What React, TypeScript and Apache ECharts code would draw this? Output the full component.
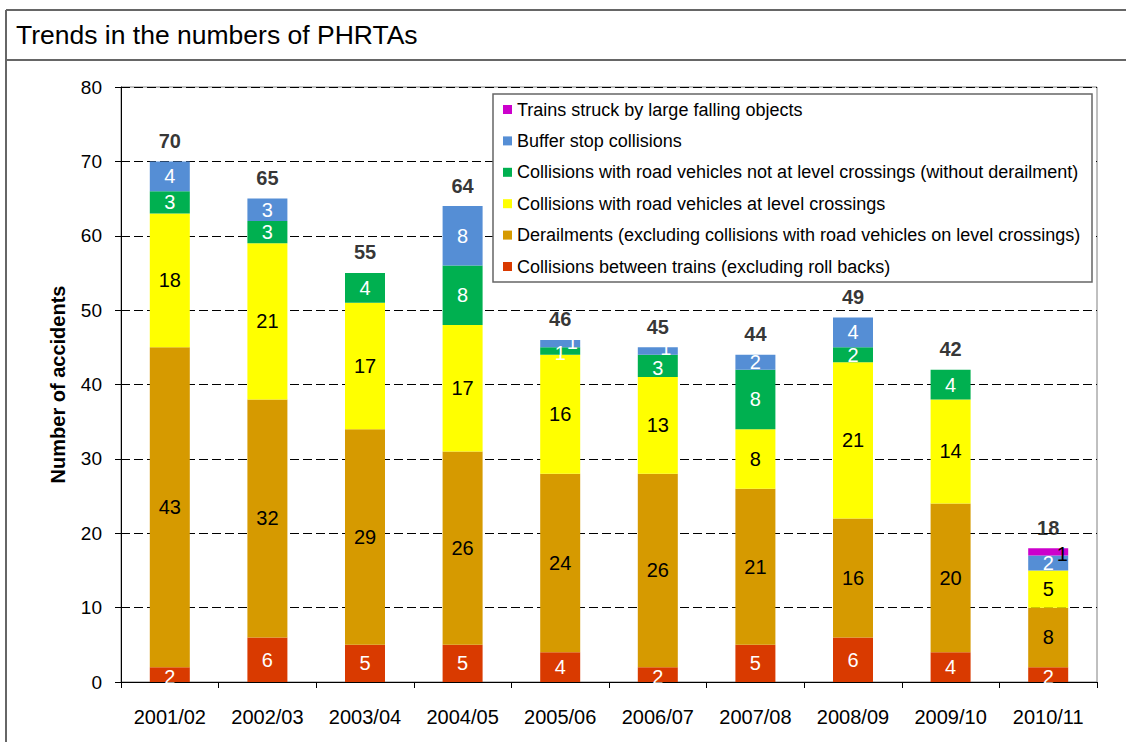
import React, { useEffect, useRef } from "react";
import * as echarts from "echarts";

const categories = ["2001/02", "2002/03", "2003/04", "2004/05", "2005/06", "2006/07", "2007/08", "2008/09", "2009/10", "2010/11"];
const collisionsBetweenTrains = [2, 6, 5, 5, 4, 2, 5, 6, 4, 2];
const derailments = [43, 32, 29, 26, 24, 26, 21, 16, 20, 8];
const levelCrossings = [18, 21, 17, 17, 16, 13, 8, 21, 14, 5];
const roadVehiclesNotLC = [3, 3, 4, 8, 1, 3, 8, 2, 4, 0];
const bufferStops = [4, 3, 0, 8, 1, 1, 2, 4, 0, 2];
const fallingObjects = [0, 0, 0, 0, 0, 0, 0, 0, 0, 1];
const totals = [70, 65, 55, 64, 46, 45, 44, 49, 42, 18];

const seriesDefs = [
  { name: "Collisions between trains (excluding roll backs)", data: collisionsBetweenTrains, color: "#D93A00", label: "#ffffff", offsets: { 0: [0, 2], 5: [0, 2], 9: [0, 2] } as Record<number, number[]> },
  { name: "Derailments (excluding collisions with road vehicles on level crossings)", data: derailments, color: "#D69A00", label: "#000000", offsets: {} as Record<number, number[]> },
  { name: "Collisions with road vehicles at level crossings", data: levelCrossings, color: "#FFFF00", label: "#000000", offsets: {} as Record<number, number[]> },
  { name: "Collisions with road vehicles not at level crossings (without derailment)", data: roadVehiclesNotLC, color: "#00B050", label: "#ffffff", offsets: { 4: [0, 2], 5: [0, 2] } as Record<number, number[]> },
  { name: "Buffer stop collisions", data: bufferStops, color: "#558ED5", label: "#ffffff", offsets: { 4: [12, -2], 5: [8, -3] } as Record<number, number[]> },
  { name: "Trains struck by large falling objects", data: fallingObjects, color: "#CC00CC", label: "#000000", offsets: { 9: [14, 2] } as Record<number, number[]> },
];

const FONT = "Liberation Sans, Arial, sans-serif";

export default function App() {
  const ref = useRef<HTMLDivElement>(null);
  useEffect(() => {
    if (!ref.current) return;
    const chart = echarts.init(ref.current, null, { renderer: "svg" });
    const barSeries = seriesDefs.map((s) => ({
      name: s.name,
      type: "bar",
      stack: "total",
      barWidth: 40,
      itemStyle: { color: s.color },
      data: s.data.map((v, i) => ({
        value: v,
        label: {
          show: v > 0,
          offset: s.offsets[i] || [0, 0],
        },
      })),
      label: {
        show: true,
        position: "inside",
        color: s.label,
        fontSize: 20,
        fontFamily: FONT,
        textBorderWidth: 0,
      },
    }));
    chart.setOption({
      animation: false,
      textStyle: { fontFamily: FONT },
      grid: { left: 121, right: 29, top: 87, bottom: 60, show: true, borderColor: "#808080", borderWidth: 1 },
      graphic: [
        { type: "line", z: 10, shape: { x1: 6, y1: 10, x2: 1126, y2: 10 }, style: { stroke: "#666666", lineWidth: 2 } },
        { type: "line", z: 10, shape: { x1: 6, y1: 60, x2: 1126, y2: 60 }, style: { stroke: "#666666", lineWidth: 2 } },
        { type: "line", z: 10, shape: { x1: 6, y1: 10, x2: 6, y2: 742 }, style: { stroke: "#666666", lineWidth: 2 } },
        {
          type: "text",
          left: 16,
          top: 21,
          style: { text: "Trends in the numbers of PHRTAs", fontSize: 26.5, fontFamily: FONT, fill: "#000000" },
        },
        {
          type: "rect",
          z: 3,
          shape: { x: 493, y: 94, width: 599, height: 188 },
          style: { fill: "#ffffff", stroke: "#666666", lineWidth: 1.5 },
        },
      ],
      legend: {
        orient: "vertical",
        left: 503,
        top: 100,
        z: 5,
        icon: "rect",
        itemWidth: 9,
        itemHeight: 9,
        itemGap: 12.4,
        padding: 0,
        textStyle: { fontSize: 18, fontFamily: FONT, color: "#000000", lineHeight: 19 },
        data: seriesDefs.map((s) => s.name).reverse(),
      },
      xAxis: {
        type: "category",
        data: categories,
        axisLine: { lineStyle: { color: "#000000", width: 1 } },
        axisTick: { show: true, alignWithLabel: false, length: 6, lineStyle: { color: "#000000" } },
        axisLabel: { fontSize: 20, color: "#000000", margin: 25, fontFamily: FONT },
      },
      yAxis: {
        type: "value",
        min: 0,
        max: 80,
        interval: 10,
        name: "Number of accidents",
        nameLocation: "middle",
        nameGap: 53,
        nameRotate: 90,
        nameTextStyle: { fontSize: 20, fontWeight: "bold", color: "#000000", fontFamily: FONT },
        axisLine: { show: true, lineStyle: { color: "#000000", width: 1 } },
        axisTick: { show: true, length: 6, lineStyle: { color: "#000000" } },
        axisLabel: { fontSize: 19, color: "#000000", margin: 19, fontFamily: FONT },
        splitLine: { show: true, lineStyle: { color: "#000000", type: [9, 4], width: 1 } },
      },
      series: [
        ...barSeries,
        {
          name: "Total",
          type: "scatter",
          data: totals,
          symbolSize: 1,
          itemStyle: { color: "rgba(0,0,0,0)" },
          label: {
            show: true,
            position: "top",
            distance: 10,
            fontSize: 20,
            fontWeight: "bold",
            color: "#000000",
            fontFamily: FONT,
          },
        },
      ],
    });
    return () => chart.dispose();
  }, []);
  return <div ref={ref} style={{ position: "fixed", left: 0, top: 0, width: 1126, height: 742, background: "#ffffff" }} />;
}
